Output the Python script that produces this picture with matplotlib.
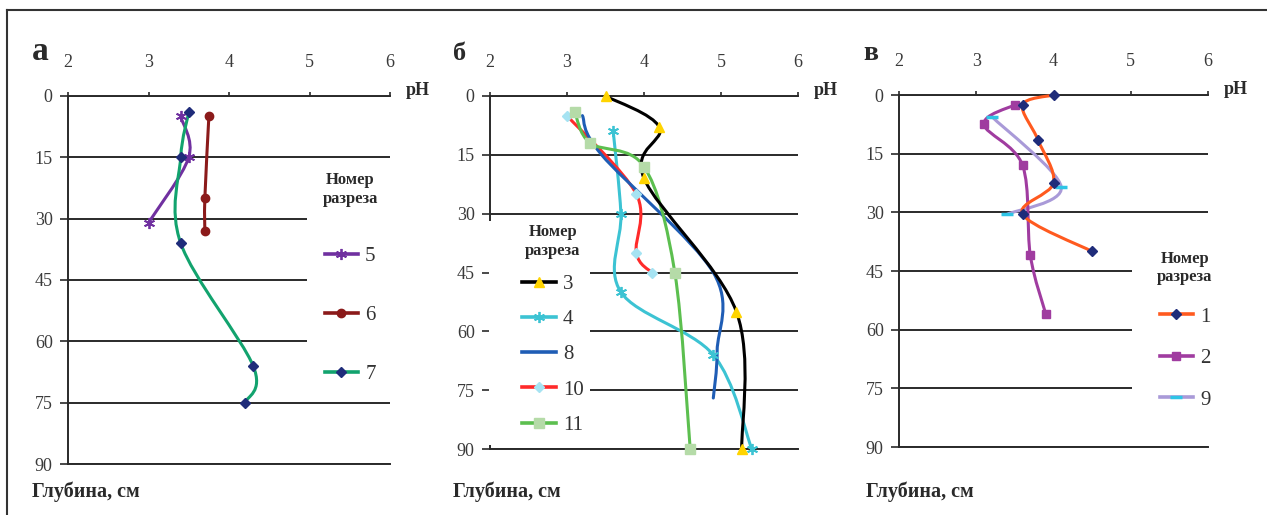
import matplotlib
matplotlib.use("Agg")
import matplotlib.pyplot as plt
from matplotlib.path import Path
from matplotlib.patches import PathPatch, Rectangle
from matplotlib.lines import Line2D
import numpy as np

plt.rcParams['font.family'] = ['Liberation Serif', 'DejaVu Serif']

# ---------------- data ----------------
# panel а
a5_ph = [3.4, 3.5, 3.0];            a5_d = [5, 15, 31]
a6_ph = [3.75, 3.7, 3.7];           a6_d = [5, 25, 33]
a7_ph = [3.5, 3.4, 3.4, 4.3, 4.2];  a7_d = [4, 15, 36, 66, 75]
# panel б
b3_ph = [3.5, 4.2, 4.0, 5.2, 5.27];    b3_d = [0, 8, 21, 55, 90]
b4_ph = [3.6, 3.7, 3.7, 4.9, 5.4];     b4_d = [9, 30, 50, 66, 90]
b8_ph = [3.2, 3.45, 4.9, 4.95, 4.9];   b8_d = [5, 15, 45, 65, 77]
b10_ph = [3.0, 3.9, 3.9, 4.1];         b10_d = [5, 25, 40, 45]
b11_ph = [3.1, 3.3, 4.0, 4.4, 4.6];    b11_d = [4, 12, 18, 45, 90]
# panel в
c1_ph = [4.0, 3.6, 3.8, 4.0, 3.6, 4.5];  c1_d = [0, 2.5, 11.5, 22.5, 30.5, 40]
c2_ph = [3.5, 3.1, 3.6, 3.7, 3.9];       c2_d = [2.5, 7.5, 18, 41, 56]
c9_ph = [3.2, 4.1, 3.4];                 c9_d = [5.5, 23.5, 30.5]

x_ticks = [2, 3, 4, 5, 6]
y_ticks = [0, 15, 30, 45, 60, 75, 90]
panel_letters = ['а', 'б', 'в']
legend_title = 'Номер\nразреза'
x_label = 'pH'
y_label = 'Глубина, см'

W, H = 1267, 515
fig = plt.figure(figsize=(W / 100, H / 100), dpi=100)

def px_axes(x0, y0, x1, y1):
    return fig.add_axes([x0 / W, 1 - y1 / H, (x1 - x0) / W, (y1 - y0) / H])

def smooth(ax, xs, ys, color, lw=2.2, z=3):
    pts = np.column_stack([xs, ys]).astype(float)
    n = len(pts)
    verts = [pts[0]]
    codes = [Path.MOVETO]
    for i in range(n - 1):
        p0 = pts[i - 1] if i > 0 else pts[i]
        p1 = pts[i]
        p2 = pts[i + 1]
        p3 = pts[i + 2] if i + 2 < n else pts[i + 1]
        verts += [p1 + (p2 - p0) / 6.0, p2 - (p3 - p1) / 6.0, p2]
        codes += [Path.CURVE4] * 3
    patch = PathPatch(Path(verts, codes), fill=False, edgecolor=color, lw=lw,
                      zorder=z, clip_on=False, capstyle='round', joinstyle='round')
    ax.add_patch(patch)

def series(ax, xs, ys, color, marker=None, mcolor=None, ms=6, mew=1.0, z=3):
    smooth(ax, xs, ys, color, z=z)
    if marker is not None:
        mc = mcolor or color
        ax.plot(xs, ys, linestyle='none', marker=marker, color=mc, mfc=mc, mec=mc,
                ms=ms, mew=mew, zorder=z + 0.5, clip_on=False)
    return Line2D([], [], color=color, lw=2.6, marker=marker,
                  mfc=mcolor or color, mec=mcolor or color, ms=ms, mew=mew)

def style_axes(ax):
    ax.set_xlim(2, 6)
    ax.set_ylim(90, 0)
    ax.set_xticks(x_ticks)
    ax.set_yticks(y_ticks)
    ax.xaxis.tick_top()
    ax.spines['right'].set_visible(False)
    for s in ['top', 'left', 'bottom']:
        ax.spines[s].set_color('#2a2a2a')
        ax.spines[s].set_linewidth(1.4)
    ax.tick_params(axis='x', direction='out', length=3, width=1.2, pad=15,
                   labelsize=13, colors='#2a2a2a', labelcolor='#3a3a3a')
    ax.tick_params(axis='y', direction='out', length=6, width=1.2, pad=5,
                   labelsize=13, colors='#2a2a2a', labelcolor='#3a3a3a')
    ax.grid(axis='y', color='#2a2a2a', lw=1.4)
    ax.set_axisbelow(True)
    ax.patch.set_alpha(0)
    ax.text(1.05, 1.016, x_label, transform=ax.transAxes, fontsize=13,
            fontweight='bold', color='#2a2a2a', ha='left', va='center')

def legend_box(ax, x0, y0, x1, y1):
    # white legend background given in axes fraction
    ax.add_patch(Rectangle((x0, y0), x1 - x0, y1 - y0, transform=ax.transAxes,
                           facecolor='white', edgecolor='none', zorder=2.6,
                           clip_on=False))

def add_legend(ax, handles, labels, cx, ty, spacing):
    leg = ax.legend(handles, labels, title=legend_title, loc='upper center',
                    bbox_to_anchor=(cx, ty), borderaxespad=0, frameon=False,
                    fontsize=15, labelspacing=spacing, handlelength=1.6,
                    handletextpad=0.35, borderpad=0.35,
                    title_fontproperties={'weight': 'bold', 'size': 12})
    leg.get_title().set_color('#2a2a2a')
    leg.get_title().set_multialignment('center')
    for t in leg.get_texts():
        t.set_color('#333333')
    leg.set_zorder(10)

# ---------------- panel а ----------------
axa = px_axes(68, 96, 390, 464)
style_axes(axa)
h5 = series(axa, a5_ph, a5_d, '#7030A0', marker=(6, 2, 0), ms=8, mew=1.3)
h6 = series(axa, a6_ph, a6_d, '#8B1A1A', marker='o', ms=6)
h7 = series(axa, a7_ph, a7_d, '#12A36E', marker='D', mcolor='#1F2C7A', ms=5.5)
legend_box(axa, 0.742, 0.1875, 1.03, 0.8125)
add_legend(axa, [h5, h6, h7], ['5', '6', '7'], 0.876, 0.8125, 1.9)

# ---------------- panel б ----------------
axb = px_axes(490, 96, 798, 449)
style_axes(axb)
g4 = series(axb, b4_ph, b4_d, '#3CC3D3', marker=(6, 2, 0), ms=8, mew=1.3, z=3)
g10 = series(axb, b10_ph, b10_d, '#FF2A2A', marker='D', mcolor='#A6E3F2', ms=5.5, z=3.1)
g8 = series(axb, b8_ph, b8_d, '#1F5DB5', z=3.2)
g11 = series(axb, b11_ph, b11_d, '#5CBF4F', marker='s', mcolor='#B5DBA8', ms=6.5, z=3.3)
g3 = series(axb, b3_ph, b3_d, '#000000', marker='^', mcolor='#FFD400', ms=7, z=3.4)
legend_box(axb, -0.004, 0.012, 0.325, 0.645)
add_legend(axb, [g3, g4, g8, g10, g11], ['3', '4', '8', '10', '11'], 0.2045, 0.657, 0.75)

# ---------------- panel в ----------------
axc = px_axes(899, 95, 1208, 447)
style_axes(axc)
k9 = series(axc, c9_ph, c9_d, '#A99AD8', marker='_', mcolor='#2EC4E6', ms=9, mew=2.5, z=3)
k2 = series(axc, c2_ph, c2_d, '#A03CA0', marker='s', ms=6, z=3.1)
k1 = series(axc, c1_ph, c1_d, '#FF5A1F', marker='D', mcolor='#1F2C7A', ms=5.5, z=3.2)
legend_box(axc, 0.754, 0.08, 1.05, 0.585)
add_legend(axc, [k1, k2, k9], ['1', '2', '9'], 0.9256, 0.578, 1.05)

# panel letters and depth labels (figure pixel positions)
for letter, (lx, ly), size in zip(panel_letters, [(32, 60), (453, 60), (863, 60)], [24, 19, 20]):
    fig.text(lx / W, 1 - ly / H, letter, fontsize=size, fontweight='bold',
             color='#2a2a2a', ha='left', va='baseline')
for lx in [32, 453, 866]:
    fig.text(lx / W, 1 - 497 / H, y_label, fontsize=14.5, fontweight='bold',
             color='#2a2a2a', ha='left', va='baseline')

# outer frame (top and left only)
fig.add_artist(Line2D([7 / W, 7 / W], [0, 1 - 10 / H], color='#333333', lw=1.5))
fig.add_artist(Line2D([7 / W, 1], [1 - 10 / H, 1 - 10 / H], color='#333333', lw=1.5))

fig.savefig('out.png', dpi=100, facecolor='white')
